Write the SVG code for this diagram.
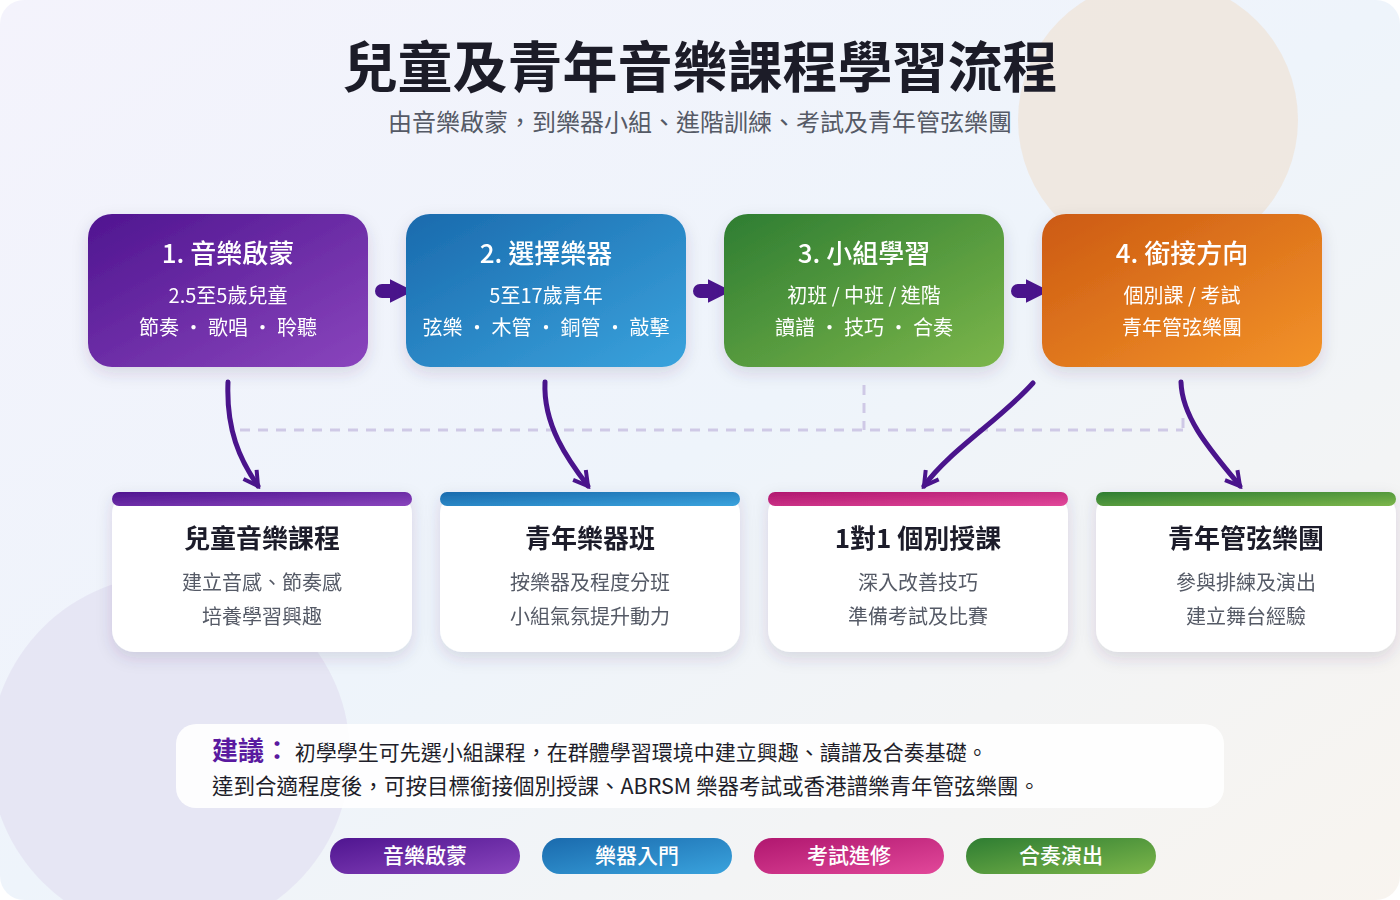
<svg xmlns="http://www.w3.org/2000/svg" width="1400" height="900" viewBox="0 0 1400 900">
<defs>
<linearGradient id="bg" x1="0" y1="0" x2="1" y2="1"><stop offset="0" stop-color="#f4f3fc"/><stop offset="0.5" stop-color="#eef4fb"/><stop offset="1" stop-color="#f8f4ef"/></linearGradient>
<linearGradient id="gP" x1="0" y1="0" x2="1" y2="1"><stop offset="0" stop-color="#4f1590"/><stop offset="1" stop-color="#8a45bd"/></linearGradient>
<linearGradient id="gB" x1="0" y1="0" x2="1" y2="1"><stop offset="0" stop-color="#1a6aad"/><stop offset="1" stop-color="#3aa3dd"/></linearGradient>
<linearGradient id="gG" x1="0" y1="0" x2="1" y2="1"><stop offset="0" stop-color="#2e7d32"/><stop offset="1" stop-color="#7cb64a"/></linearGradient>
<linearGradient id="gO" x1="0" y1="0" x2="1" y2="1"><stop offset="0" stop-color="#cc5a12"/><stop offset="1" stop-color="#f39329"/></linearGradient>
<linearGradient id="gM" x1="0" y1="0" x2="1" y2="1"><stop offset="0" stop-color="#b0176f"/><stop offset="1" stop-color="#e2489a"/></linearGradient>
<filter id="sh" x="-20%" y="-20%" width="140%" height="150%"><feDropShadow dx="0" dy="6" stdDeviation="8" flood-color="#3a3060" flood-opacity="0.15"/></filter>
<marker id="chev" viewBox="0 0 10 10" refX="8" refY="5" markerWidth="4" markerHeight="4" orient="auto"><path d="M1,1 L8,5 L1,9" fill="none" stroke="#4a148c" stroke-width="2"/></marker>
<marker id="tri" viewBox="0 0 10 10" refX="1" refY="5" markerWidth="1.7" markerHeight="1.7" orient="auto"><path d="M0,0 L10,5 L0,10 Z" fill="#4a148c"/></marker>
<style>
.t{font-family:"Noto Sans CJK TC","Noto Sans",sans-serif}
.h{font-size:26px;font-weight:500;fill:#fff;text-anchor:middle}
.s{font-size:20px;fill:#fff;text-anchor:middle}
.ch{font-size:26px;font-weight:700;fill:#1e1e2a;text-anchor:middle}
.cs{font-size:20px;fill:#555a66;text-anchor:middle}
.pl{font-size:21px;fill:#fff;text-anchor:middle;font-weight:500}
.cur{fill:none;stroke:#4a148c;stroke-width:5;stroke-linecap:round;marker-end:url(#chev)}
.dash{fill:none;stroke:#cfc9e6;stroke-width:3;stroke-dasharray:10 8}
</style>
</defs>
<rect width="1400" height="900" rx="24" fill="url(#bg)"/>
<circle cx="1158" cy="120" r="140" fill="#efe2d6" opacity="0.7"/>
<circle cx="170" cy="755" r="180" fill="#e4e2f2" opacity="0.8"/>
<text class="t" x="700" y="87" font-size="55" font-weight="700" fill="#1c1c28" text-anchor="middle">兒童及青年音樂課程學習流程</text>
<text class="t" x="700" y="131" font-size="24" fill="#555a66" text-anchor="middle">由音樂啟蒙，到樂器小組、進階訓練、考試及青年管弦樂團</text>
<g id="connectors">
<path class="dash" d="M240,430 H1183 M864,385 V430 M1183,418 V430"/>
<path d="M382,291 H392" stroke="#4a148c" stroke-width="14" stroke-linecap="round" marker-end="url(#tri)"/>
<path d="M700,291 H710" stroke="#4a148c" stroke-width="14" stroke-linecap="round" marker-end="url(#tri)"/>
<path d="M1018,291 H1028" stroke="#4a148c" stroke-width="14" stroke-linecap="round" marker-end="url(#tri)"/>
<path class="cur" d="M228,382 C226,430 240,460 258,486"/>
<path class="cur" d="M545,382 C543,425 568,460 588,486"/>
<path class="cur" d="M1033,383 C1000,420 950,450 924,486"/>
<path class="cur" d="M1181,382 C1182,420 1215,455 1240,486"/>
</g>
<g id="n1" filter="url(#sh)"><rect x="88" y="214" width="280" height="153" rx="24" fill="url(#gP)"/>
<text class="t h" x="228" y="263">1. 音樂啟蒙</text><text class="t s" x="228" y="303">2.5至5歲兒童</text><text class="t s" x="228" y="335">節奏 · 歌唱 · 聆聽</text></g>
<g id="n2" filter="url(#sh)"><rect x="406" y="214" width="280" height="153" rx="24" fill="url(#gB)"/>
<text class="t h" x="546" y="263">2. 選擇樂器</text><text class="t s" x="546" y="303">5至17歲青年</text><text class="t s" x="546" y="335">弦樂 · 木管 · 銅管 · 敲擊</text></g>
<g id="n3" filter="url(#sh)"><rect x="724" y="214" width="280" height="153" rx="24" fill="url(#gG)"/>
<text class="t h" x="864" y="263">3. 小組學習</text><text class="t s" x="864" y="303">初班 / 中班 / 進階</text><text class="t s" x="864" y="335">讀譜 · 技巧 · 合奏</text></g>
<g id="n4" filter="url(#sh)"><rect x="1042" y="214" width="280" height="153" rx="24" fill="url(#gO)"/>
<text class="t h" x="1182" y="263">4. 銜接方向</text><text class="t s" x="1182" y="303">個別課 / 考試</text><text class="t s" x="1182" y="335">青年管弦樂團</text></g>
<g id="c1" filter="url(#sh)"><rect x="112" y="492" width="300" height="160" rx="22" fill="#fff"/><rect x="112" y="492" width="300" height="14" rx="7" fill="url(#gP)"/>
<text class="t ch" x="262" y="548">兒童音樂課程</text><text class="t cs" x="262" y="590">建立音感、節奏感</text><text class="t cs" x="262" y="624">培養學習興趣</text></g>
<g id="c2" filter="url(#sh)"><rect x="440" y="492" width="300" height="160" rx="22" fill="#fff"/><rect x="440" y="492" width="300" height="14" rx="7" fill="url(#gB)"/>
<text class="t ch" x="590" y="548">青年樂器班</text><text class="t cs" x="590" y="590">按樂器及程度分班</text><text class="t cs" x="590" y="624">小組氣氛提升動力</text></g>
<g id="c3" filter="url(#sh)"><rect x="768" y="492" width="300" height="160" rx="22" fill="#fff"/><rect x="768" y="492" width="300" height="14" rx="7" fill="url(#gM)"/>
<text class="t ch" x="918" y="548">1對1 個別授課</text><text class="t cs" x="918" y="590">深入改善技巧</text><text class="t cs" x="918" y="624">準備考試及比賽</text></g>
<g id="c4" filter="url(#sh)"><rect x="1096" y="492" width="300" height="160" rx="22" fill="#fff"/><rect x="1096" y="492" width="300" height="14" rx="7" fill="url(#gG)"/>
<text class="t ch" x="1246" y="548">青年管弦樂團</text><text class="t cs" x="1246" y="590">參與排練及演出</text><text class="t cs" x="1246" y="624">建立舞台經驗</text></g>
<g id="note"><rect x="176" y="724" width="1048" height="84" rx="20" fill="#fff" opacity="0.9"/>
<text class="t" x="212" y="760" font-size="21" fill="#1e1e2a"><tspan font-size="26" font-weight="700" fill="#5a1aa0">建議：</tspan> 初學學生可先選小組課程，在群體學習環境中建立興趣、讀譜及合奏基礎。</text>
<text class="t" x="212" y="794" font-size="21.5" fill="#1e1e2a">達到合適程度後，可按目標銜接個別授課、ABRSM 樂器考試或香港譜樂青年管弦樂團。</text></g>
<g id="legend">
<rect x="330" y="838" width="190" height="36" rx="18" fill="url(#gP)"/><text class="t pl" x="425" y="863">音樂啟蒙</text>
<rect x="542" y="838" width="190" height="36" rx="18" fill="url(#gB)"/><text class="t pl" x="637" y="863">樂器入門</text>
<rect x="754" y="838" width="190" height="36" rx="18" fill="url(#gM)"/><text class="t pl" x="849" y="863">考試進修</text>
<rect x="966" y="838" width="190" height="36" rx="18" fill="url(#gG)"/><text class="t pl" x="1061" y="863">合奏演出</text>
</g>
</svg>
